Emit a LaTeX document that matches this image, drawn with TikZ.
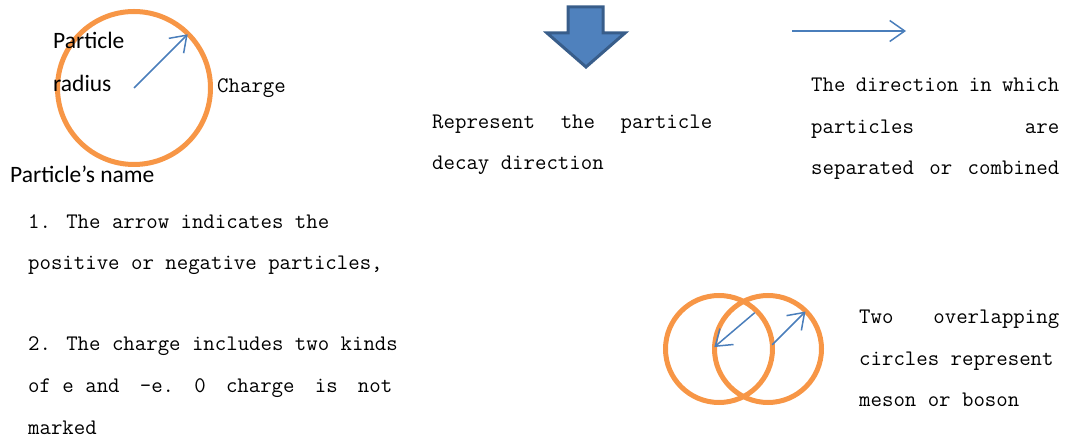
\documentclass[tikz,border=0pt]{standalone}
\usepackage{fontspec}
\newfontfamily\calibfont{Carlito}
\usepackage{tikz}
\usetikzlibrary{arrows.meta,positioning}
\definecolor{ringorange}{RGB}{247,150,70}
\definecolor{arrowblue}{RGB}{74,126,187}
\definecolor{blockblue}{RGB}{79,129,189}
\definecolor{blockedge}{RGB}{56,93,138}

\begin{document}
\begin{tikzpicture}[x=1bp,y=-1bp,
  ring/.style={draw=ringorange,line width=5bp,circle,minimum size=#1,inner sep=0pt},
  vec/.style={draw=arrowblue,line width=1.5bp,-{Straight Barb[length=15bp,width=21bp]}},
  note/.style={font=\fontsize{22.2bp}{41.5bp}\ttfamily\selectfont,inner sep=0pt,align=left,anchor=base west},
  tag/.style={font=\fontsize{23.5bp}{43bp}\calibfont\selectfont,inner sep=0pt,align=left,anchor=base west}
]
  \useasboundingbox (0,0) rectangle (1067,437);

  \node[ring=153bp] (pcirc) at (134,88) {};
  \node[tag] (radius) at (53,92) {Particle\\radius};
  \node[note] (charge) at (217,93) {Charge};
  \node[tag] (pname) at (10,183) {Particle’s name};
  \draw[vec,shorten >=3bp] (pcirc.center) -- (pcirc.45);

  \node[note] (rule1) at (28,270) {1. The arrow indicates the\\positive or negative particles,};
  \node[note] (rule2) at (28,434) {2. The charge includes two kinds\\\makebox[364bp][l]{of e and\hfill -e.\hfill 0\hfill charge\hfill is\hfill not}\\marked};

  \draw[fill=blockblue,draw=blockedge,line width=3bp,line join=miter]
    (568,7) -- (603,7) -- (603,33) -- (625,33) -- (586,67) -- (547,33) -- (568,33) -- cycle;
  \node[note] (decay) at (432,170) {\makebox[280bp][l]{Represent\hfill the\hfill particle}\\decay direction};

  \coordinate (dirL) at (792,31);
  \coordinate (dirR) at (906,31);
  \draw[vec] (dirL) -- (dirR);
  \node[note] (sep) at (811,175) {\makebox[248bp][l]{The\hfill direction\hfill in\hfill which}\\\makebox[248bp][l]{particles\hfill are}\\\makebox[248bp][l]{separated\hfill or\hfill combined}};

  \node[ring=107bp] (lring) at (719,349) {};
  \node[ring=107bp] (rring) at (768,349) {};
  \draw[vec,shorten <=5bp,shorten >=3bp] (lring.45) -- (rring.west);
  \draw[vec,shorten <=6bp,shorten >=3bp] (rring.center) -- (rring.45);
  \node[note] (meson) at (859,407) {\makebox[200bp][l]{Two\hfill overlapping}\\circles represent\\meson or boson};
\end{tikzpicture}
\end{document}
